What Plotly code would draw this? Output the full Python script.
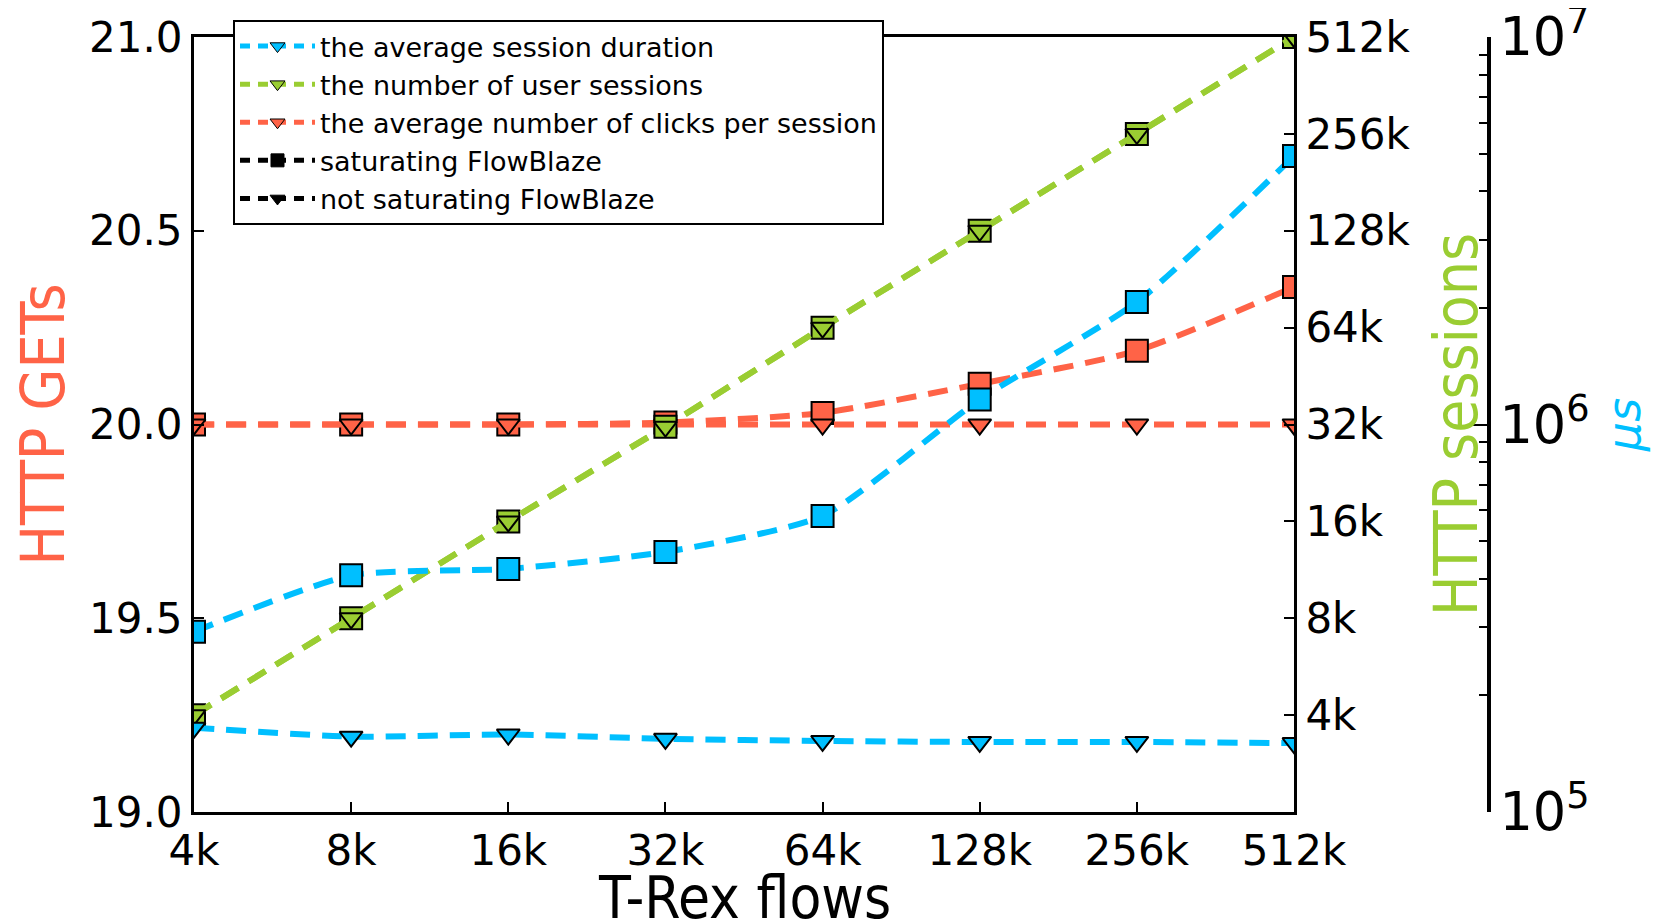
import math
import plotly.graph_objects as go

# ---------------- data ----------------
flows_k = [4, 8, 16, 32, 64, 128, 256, 512]
flow_labels = ["4k", "8k", "16k", "32k", "64k", "128k", "256k", "512k"]

# HTTP GETs (average number of clicks per session)
clicks_sat = [20.0, 20.0, 20.0, 20.005, 20.03, 20.105, 20.19, 20.355]
clicks_nosat = [20.0, 20.0, 20.0, 20.0, 20.0, 20.0, 20.0, 20.0]

# HTTP sessions (thousands)
sessions_sat_k = [4, 8, 16, 31.5, 64, 128, 256, 512]
sessions_nosat_k = [4, 8, 16, 31.5, 64, 128, 256, 512]
session_ticks_k = [4, 8, 16, 32, 64, 128, 256, 512]
session_labels = ["4k", "8k", "16k", "32k", "64k", "128k", "256k", "512k"]

# average session duration (microseconds)
duration_sat_us = [2.92e5, 4.08e5, 4.24e5, 4.69e5, 5.81e5, 1.16e6, 2.07e6, 4.93e6]
duration_nosat_us = [1.65e5, 1.565e5, 1.585e5, 1.545e5, 1.525e5, 1.516e5, 1.516e5, 1.506e5]

gets_ticks = [19.0, 19.5, 20.0, 20.5, 21.0]

# ---------------- style ----------------
BLUE = "#00BFFF"
GREEN = "#9ACD32"
RED = "#FF6347"
TICK_FONT = dict(family="DejaVu Sans", size=42, color="black")
TITLE_FAMILY = "DejaVu Sans Condensed, DejaVu Sans"
DASH = "20px,12px"

W, H = 1657, 911
ML, MR, MT, MB = 186, 10, 29, 107
PW = W - ML - MR
PH = H - MT - MB
x_end = 1100 / PW
y3_pos = 1295 / PW

fig = go.Figure()


def add_series(x, y, yaxis, color, symbol, size, shape):
    fig.add_trace(go.Scatter(
        x=x, y=y, yaxis=yaxis, mode="lines+markers", showlegend=False,
        line=dict(color=color, width=6, dash=DASH, shape=shape, smoothing=0.6),
        marker=dict(symbol=symbol, size=size, color=color,
                    line=dict(color="black", width=2)),
        cliponaxis=True,
    ))


add_series(flows_k, duration_sat_us, "y3", BLUE, "square", 22, "spline")
add_series(flows_k, duration_nosat_us, "y3", BLUE, "triangle-down", 20, "spline")
add_series(flows_k, clicks_sat, "y", RED, "square", 22, "spline")
add_series(flows_k, clicks_nosat, "y", RED, "triangle-down", 20, "linear")
add_series(flows_k, sessions_sat_k, "y2", GREEN, "square", 22, "linear")
add_series(flows_k, sessions_nosat_k, "y2", GREEN, "triangle-down", 20, "linear")

# legend entries
legend_items = [
    ("the average session duration", BLUE, "triangle-down"),
    ("the number of user sessions", GREEN, "triangle-down"),
    ("the average number of clicks per session", RED, "triangle-down"),
    ("saturating FlowBlaze", "black", "square"),
    ("not saturating FlowBlaze", "black", "triangle-down"),
]
for i, (name, color, symbol) in enumerate(legend_items):
    fig.add_trace(go.Scatter(
        x=[None], y=[None], name=name, mode="lines+markers", legendrank=i + 1,
        line=dict(color=color, width=5, dash="10px,8px"),
        marker=dict(symbol=symbol, size=13, color=color,
                    line=dict(color="black", width=1)),
    ))

fig.update_layout(
    width=W, height=H,
    margin=dict(l=ML, r=MR, t=MT, b=MB, autoexpand=False),
    paper_bgcolor="white", plot_bgcolor="white",
    font=dict(family="DejaVu Sans", color="black"),
    xaxis=dict(
        type="log", domain=[0, x_end],
        range=[math.log10(4), math.log10(512)],
        tickvals=flows_k, ticktext=flow_labels,
        ticks="inside", ticklen=10, tickwidth=1.5, tickcolor="black",
        tickfont=TICK_FONT,
        showline=True, linecolor="black", linewidth=3, mirror=True,
        showgrid=False, zeroline=False, automargin=False,
    ),
    yaxis=dict(
        range=[19, 21], tickvals=gets_ticks,
        ticktext=["%.1f" % v for v in gets_ticks],
        ticks="inside", ticklen=10, tickwidth=1.5, tickcolor="black",
        tickfont=TICK_FONT, ticklabeloverflow="allow",
        showline=True, linecolor="black", linewidth=3,
        showgrid=False, zeroline=False, automargin=False,
        title=dict(text="HTTP GETs", standoff=22,
                   font=dict(family=TITLE_FAMILY, size=60, color=RED)),
    ),
    yaxis2=dict(
        overlaying="y", side="right", anchor="x", type="log",
        range=[math.log10(2), math.log10(512)],
        tickvals=session_ticks_k, ticktext=session_labels,
        ticks="inside", ticklen=10, tickwidth=1.5, tickcolor="black",
        tickfont=TICK_FONT, ticklabeloverflow="allow",
        showline=True, linecolor="black", linewidth=3,
        showgrid=False, zeroline=False, automargin=False,
        title=dict(text="HTTP sessions", standoff=26,
                   font=dict(family=TITLE_FAMILY, size=60, color=GREEN)),
    ),
    yaxis3=dict(
        overlaying="y", side="right", anchor="free", position=y3_pos,
        type="log", range=[5, 7], dtick=1, exponentformat="power",
        ticks="inside", ticklen=14, tickwidth=2, tickcolor="black",
        minor=dict(ticks="inside", ticklen=8, tickwidth=2, tickcolor="black",
                   showgrid=False),
        tickfont=TICK_FONT, ticklabeloverflow="allow",
        showline=True, linecolor="black", linewidth=4,
        showgrid=False, zeroline=False, automargin=False,
        title=dict(text="<i>μs</i>", standoff=18,
                   font=dict(family="DejaVu Sans", size=46, color=BLUE)),
    ),
    legend=dict(
        x=(233 - 194) / PW, y=1 + (37 - 20) / PH,
        xanchor="left", yanchor="top",
        bgcolor="white", bordercolor="black", borderwidth=2,
        font=dict(family="DejaVu Sans", size=27, color="black"),
        tracegroupgap=0, itemwidth=75,
    ),
    annotations=[dict(
        text="T-Rex flows", xref="paper", yref="paper",
        x=x_end / 2, y=0, xanchor="center", yanchor="top", yshift=-50,
        showarrow=False,
        font=dict(family=TITLE_FAMILY, size=58, color="black"),
    )],
)

fig.write_html("out.html")
